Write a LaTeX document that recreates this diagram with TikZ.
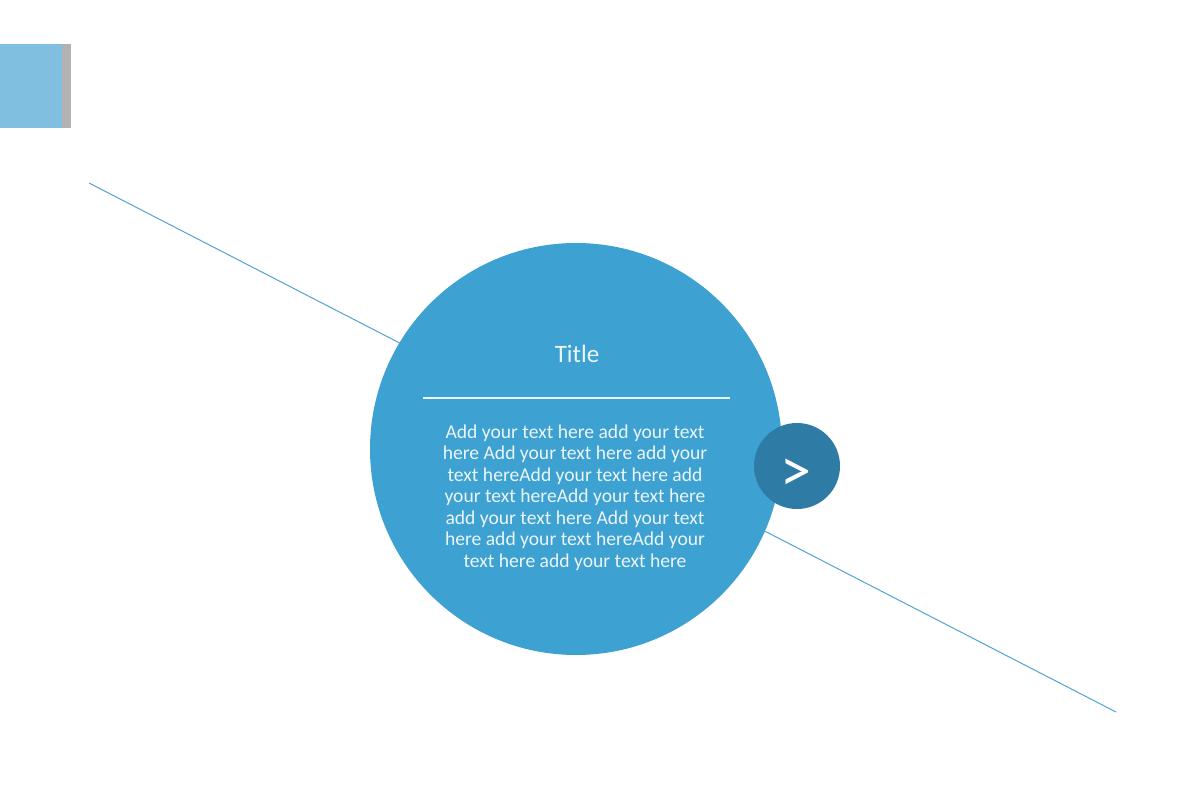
\documentclass[tikz,border=0pt]{standalone}
\usepackage{fontspec}
\setmainfont{Carlito}
\definecolor{bigblue}{RGB}{61,161,209}
\definecolor{darkblue}{RGB}{46,124,166}
\definecolor{sqblue}{RGB}{128,191,224}
\definecolor{sqgray}{RGB}{178,178,178}
\definecolor{linecol}{RGB}{80,163,210}
\definecolor{txtwhite}{RGB}{235,245,250}
\begin{document}
\begin{tikzpicture}[x=1pt,y=-1pt,
  bigcirc/.style={circle,fill=bigblue,minimum size=412pt,inner sep=0pt},
  smallcirc/.style={circle,fill=darkblue,minimum size=86pt,inner sep=0pt},
  thinline/.style={draw=linecol,line width=1pt},
  bodytext/.style={text=txtwhite,align=center,font=\fontsize{19.6}{21.5}\selectfont,inner sep=0pt}]
\useasboundingbox (0,0) rectangle (1200,800);
\fill[sqgray] (0,44) rectangle (71,128);
\fill[sqblue] (0,44) rectangle (62,128);
\coordinate (ls) at (89,183);
\coordinate (le) at (1116,712);
\draw[thinline] (ls) -- (le);
\node[bigcirc] (big) at (576,449) {};
\node[smallcirc] (small) at (797,466) {};
\node[text=white,font=\fontsize{62}{62}\selectfont] (arrow) at (796,475) {>};
\node[text=txtwhite,font=\fontsize{25}{26}\selectfont] (title) at (577,354) {Title};
\coordinate (rl) at (423,398);
\coordinate (rr) at (730,398);
\draw[draw=txtwhite,line width=2pt] (rl) -- (rr);
\node[bodytext,anchor=north] (body) at (575,424.5) {Add your text here add your text\\here Add your text here add your\\text hereAdd your text here add\\your text hereAdd your text here\\add your text here Add your text\\here add your text hereAdd your\\text here add your text here};
\end{tikzpicture}
\end{document}
